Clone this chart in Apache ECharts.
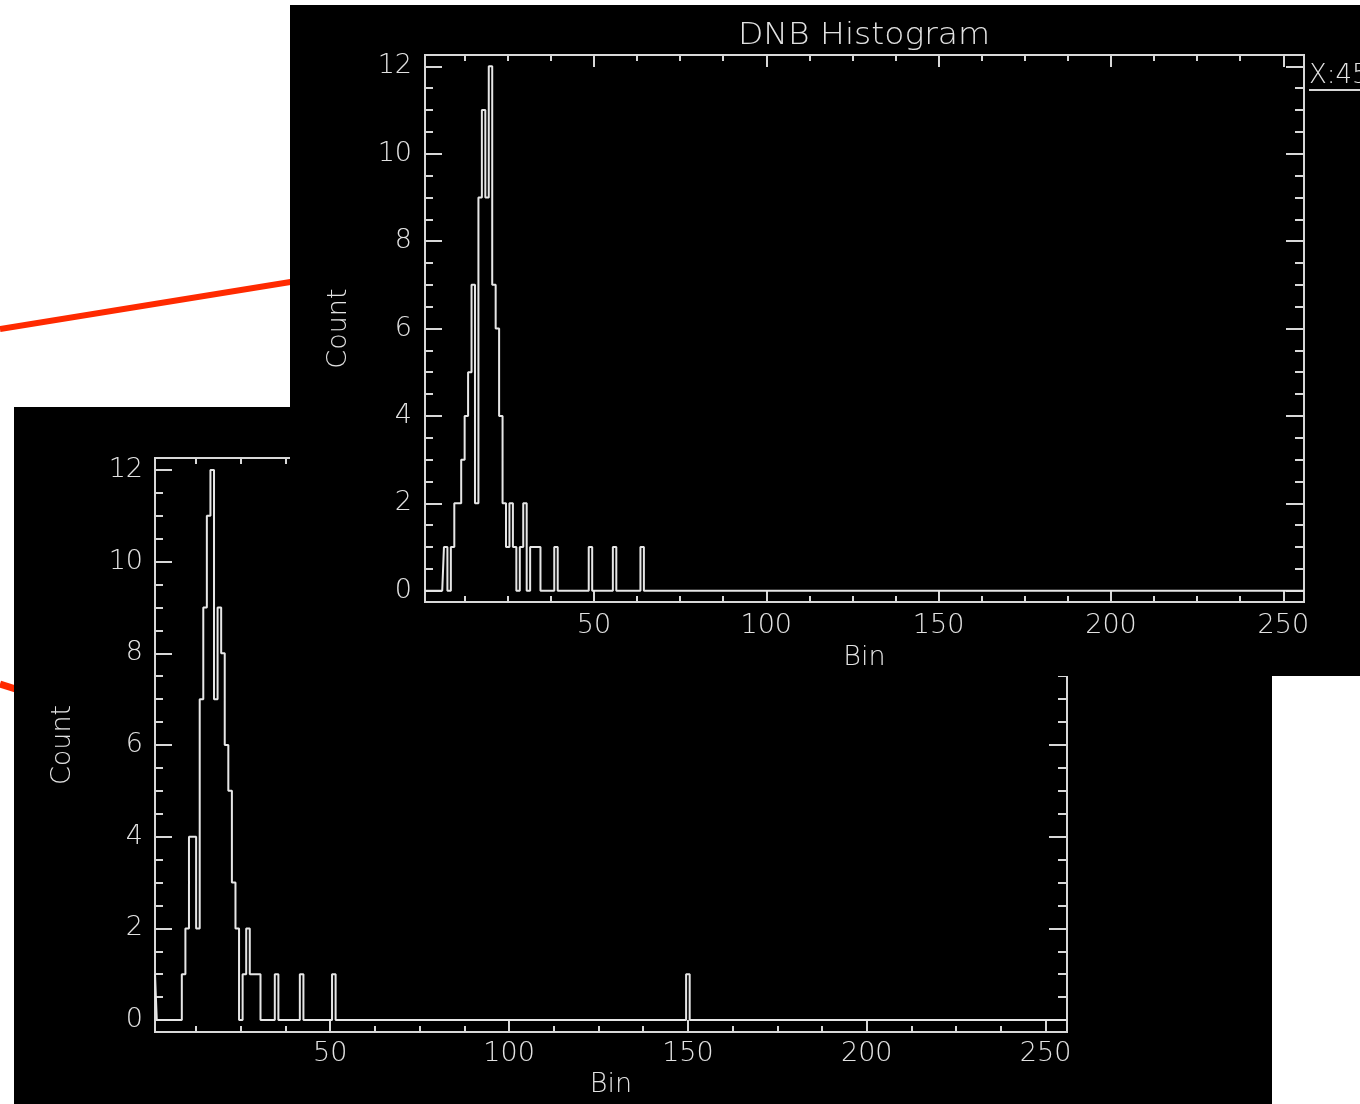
<!DOCTYPE html>
<html><head><meta charset="utf-8">
<script src="https://cdn.jsdelivr.net/npm/echarts@6/dist/echarts.min.js"></script>
<style>
html,body{margin:0;padding:0;background:#fff;width:1360px;height:1104px;overflow:hidden;position:relative;}
#bg{position:absolute;left:0;top:0;width:1360px;height:1104px;z-index:0;}
#lower{position:absolute;left:14px;top:407px;width:1258px;height:697px;background:#000;z-index:1;}
#upper{position:absolute;left:290px;top:5px;width:1070px;height:671px;background:#000;z-index:2;}
</style></head><body>
<div id="bg"></div><div id="lower"></div><div id="upper"></div>
<script>
// ---- data ----
const BIN_MIN = 1, BIN_MAX = 256;
const COUNT_MIN = -0.26, COUNT_MAX = 12.26;
const xMajorTicks = [50, 100, 150, 200, 250];
const xMinorTicks = [12.5, 25, 37.5, 62.5, 75, 87.5, 112.5, 125, 137.5, 162.5, 175, 187.5, 212.5, 225, 237.5];
const yMajorTicks = [0, 2, 4, 6, 8, 10, 12];
const yMinorTicks = [0.5, 1, 1.5, 2.5, 3, 3.5, 4.5, 5, 5.5, 6.5, 7, 7.5, 8.5, 9, 9.5, 10.5, 11, 11.5];

// upper plot ("DNB Histogram"): counts for bins 1..64, higher bins read as 0
const upperCounts = [0,0,0,0,0,0,1,0,1,2, 2,3,4,5,7,2,9,11,9,12, 7,6,4,2,1,2,1,0,1,2,
                     0,1,1,1,0,0,0,0,1,0, 0,0,0,0,0,0,0,0,1,0, 0,0,0,0,0,1,0,0,0,0, 0,0,0,1];
// lower plot: counts for bins 1..52, plus an isolated bin further right
const lowerCounts = [1,0,0,0,0,0,0,0,1,2, 4,4,2,7,9,11,12,7,9,8, 6,5,3,2,0,1,2,1,1,1,
                     0,0,0,0,1,0,0,0,0,0, 0,1,0,0,0,0,0,0,0,0, 1,0];
const lowerFarBins = [150];
const lowerFarCounts = [1];

const titleText = 'DNB Histogram';
const xName = 'Bin', yName = 'Count';
const cursorText = 'X:45';

// ---- build ----
const FONT = "'DejaVu Sans', 'Liberation Sans', sans-serif";
const INK = '#d8d8d8', TXT = '#e2e2e2';

function toSeries(counts, extraBins, extraCounts) {
  const out = [];
  for (let b = BIN_MIN; b <= BIN_MAX; b++) {
    let c = (b - 1 < counts.length) ? counts[b - 1] : 0;
    const k = extraBins.indexOf(b);
    if (k >= 0) c = extraCounts[k];
    out.push([b, c]);
  }
  return out;
}

function buildOption(g, data, graphics) {
  const font = {color: TXT, fontFamily: FONT, fontWeight: 200, fontSize: 27};
  const tick = (vals, len) => ({show: true, inside: true, length: len, customValues: vals,
                               lineStyle: {color: INK, width: 2}});
  const xa = (pos, vals, len, label, name) => ({
    type: 'value', gridIndex: 0, position: pos, min: BIN_MIN, max: BIN_MAX,
    axisLine: {show: false, onZero: false}, splitLine: {show: false}, minorTick: {show: false},
    axisTick: tick(vals, len),
    axisLabel: label ? Object.assign({show: true, customValues: xMajorTicks, margin: g.xLabelMargin}, font) : {show: false},
    name: name || '', nameLocation: 'middle', nameGap: g.xNameGap, nameTextStyle: font
  });
  const ya = (pos, vals, len, label, name) => ({
    type: 'value', gridIndex: 0, position: pos, min: COUNT_MIN, max: COUNT_MAX,
    axisLine: {show: false, onZero: false}, splitLine: {show: false}, minorTick: {show: false},
    axisTick: tick(vals, len),
    axisLabel: label ? Object.assign({show: true, customValues: yMajorTicks, margin: g.yLabelMargin}, font) : {show: false},
    name: name || '', nameLocation: 'middle', nameGap: g.yNameGap, nameRotate: 90, nameTextStyle: font
  });
  return {
    animation: false,
    backgroundColor: '#000',
    grid: {left: g.left, top: g.top, width: g.width, height: g.height, show: true,
           borderColor: INK, borderWidth: 2, backgroundColor: 'transparent'},
    xAxis: [xa('bottom', xMajorTicks, 12, true, xName), xa('bottom', xMinorTicks, 6),
            xa('top', xMajorTicks, 12), xa('top', xMinorTicks, 6)],
    yAxis: [ya('left', yMajorTicks, 17, true, yName), ya('left', yMinorTicks, 8),
            ya('right', yMajorTicks, 18), ya('right', yMinorTicks, 9)],
    series: [{type: 'line', xAxisIndex: 0, yAxisIndex: 0, step: 'middle', data: data,
              showSymbol: false, symbol: 'none', silent: true,
              lineStyle: {color: '#e6e6e6', width: 2}}],
    graphic: graphics || []
  };
}

// background: red connector lines
const bg = echarts.init(document.getElementById('bg'), null, {renderer: 'canvas'});
bg.setOption({
  animation: false,
  graphic: [
    {type: 'line', shape: {x1: 0, y1: 329, x2: 420, y2: 261}, style: {stroke: '#ff2a00', lineWidth: 6}},
    {type: 'line', shape: {x1: 0, y1: 684, x2: 60, y2: 703}, style: {stroke: '#ff2a00', lineWidth: 7}}
  ]
});

// lower panel
const lower = echarts.init(document.getElementById('lower'), null, {renderer: 'canvas'});
lower.setOption(buildOption(
  {left: 141, top: 51, width: 912, height: 574, xLabelMargin: 8, xNameGap: 31, yLabelMargin: 12, yNameGap: 79},
  toSeries(lowerCounts, lowerFarBins, lowerFarCounts)
));

// upper panel
const upper = echarts.init(document.getElementById('upper'), null, {renderer: 'canvas'});
upper.setOption(buildOption(
  {left: 135, top: 50, width: 879, height: 551, xLabelMargin: 10, xNameGap: 29, yLabelMargin: 13, yNameGap: 73},
  toSeries(upperCounts, [], []),
  [
    {type: 'text', x: 574, y: 31, scaleX: 1.1,
     style: {text: titleText, fill: TXT, font: '200 30px ' + FONT, textAlign: 'center', textVerticalAlign: 'middle'}},
    {type: 'text', x: 1019, y: 71,
     style: {text: cursorText, fill: TXT, font: '200 26px ' + FONT, textAlign: 'left', textVerticalAlign: 'middle'}},
    {type: 'line', shape: {x1: 1019, y1: 85, x2: 1070, y2: 85}, style: {stroke: INK, lineWidth: 2}}
  ]
));
</script>
</body></html>
